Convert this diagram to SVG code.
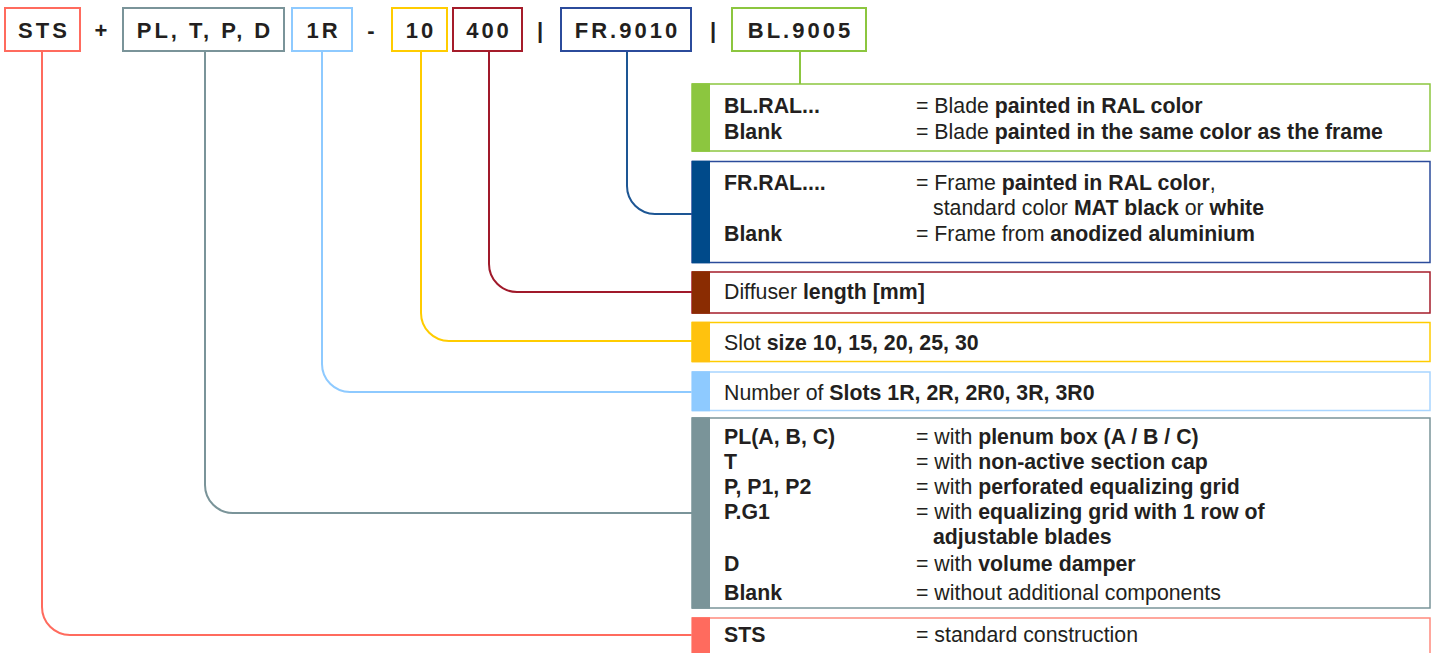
<svg xmlns="http://www.w3.org/2000/svg" width="1435" height="653" viewBox="0 0 1435 653">
<style>
text{font-family:"Liberation Sans",Arial,sans-serif;fill:#231f20;}
.h{font-size:22px;font-weight:700;letter-spacing:3px;text-anchor:middle;}
.s{font-size:22px;font-weight:700;text-anchor:middle;}
.t{font-size:21.3px;}
.b{font-weight:700;}
.box{fill:#fff;stroke-width:2;}
.pan{fill:#fff;stroke-width:1.5;}
.con{fill:none;stroke-width:2;}
</style>
<rect width="1435" height="653" fill="#fff"/>
<g id="connectors">
<path class="con" stroke="#ff6b5e" d="M42,51 V607 A28,28 0 0 0 70,635 H692"/>
<path class="con" stroke="#7a9499" d="M205,51 V485 A28,28 0 0 0 233,513 H692"/>
<path class="con" stroke="#8ecaff" d="M322,51 V364 A28,28 0 0 0 350,392 H692"/>
<path class="con" stroke="#ffcc00" d="M421,51 V313 A28,28 0 0 0 449,341 H692"/>
<path class="con" stroke="#a0192a" d="M489,51 V264 A28,28 0 0 0 517,292 H692"/>
<path class="con" stroke="#1d5694" d="M627,51 V186 A28,28 0 0 0 655,214 H692"/>
<path class="con" stroke="#8cc63f" d="M800,51 V84"/>
</g>
<g id="code">
<g id="h-sts"><rect class="box" x="5" y="8" width="75" height="43" stroke="#ff6b5e"/><text class="h" x="44" y="38">STS</text></g>
<text class="s" x="101" y="38">+</text>
<g id="h-pl"><rect class="box" x="123" y="8" width="161" height="43" stroke="#7a9499"/><text class="h" x="205" y="38">PL, T, P, D</text></g>
<g id="h-1r"><rect class="box" x="292" y="8" width="60" height="43" stroke="#8ecaff"/><text class="h" x="323.5" y="38">1R</text></g>
<text class="s" x="371" y="38">-</text>
<g id="h-10"><rect class="box" x="392" y="8" width="55" height="43" stroke="#ffcc00"/><text class="h" x="421" y="38">10</text></g>
<g id="h-400"><rect class="box" x="453" y="8" width="69" height="43" stroke="#a51c2a"/><text class="h" x="489" y="38">400</text></g>
<text class="s" x="540" y="38">|</text>
<g id="h-fr"><rect class="box" x="561" y="8" width="130" height="43" stroke="#2b4b9b"/><text class="h" x="627.5" y="38">FR.9010</text></g>
<text class="s" x="713" y="38">|</text>
<g id="h-bl"><rect class="box" x="732" y="8" width="134" height="43" stroke="#8cc63f"/><text class="h" x="800.5" y="38">BL.9005</text></g>
</g>
<g id="p-bl">
<rect class="pan" x="692" y="84" width="738" height="67" stroke="#8cc63f"/>
<rect x="692" y="83.25" width="18" height="68.5" fill="#8cc63f"/>
<text class="t b" x="724" y="112.5">BL.RAL...</text>
<text class="t" x="916" y="112.5">= Blade <tspan class="b">painted in RAL color</tspan></text>
<text class="t b" x="724" y="138.5">Blank</text>
<text class="t" x="916" y="138.5">= Blade <tspan class="b">painted in the same color as the frame</tspan></text>
</g>
<g id="p-fr">
<rect class="pan" x="692" y="161.5" width="738" height="101" stroke="#2b4b9b"/>
<rect x="692" y="160.75" width="18" height="102.5" fill="#004a8a"/>
<text class="t b" x="724" y="190">FR.RAL....</text>
<text class="t" x="916" y="190">= Frame <tspan class="b">painted in RAL color</tspan>,</text>
<text class="t" x="933" y="215">standard color <tspan class="b">MAT black</tspan> or <tspan class="b">white</tspan></text>
<text class="t b" x="724" y="241">Blank</text>
<text class="t" x="916" y="241">= Frame from <tspan class="b">anodized aluminium</tspan></text>
</g>
<g id="p-len">
<rect class="pan" x="692" y="272" width="738" height="41" stroke="#a51c2a"/>
<rect x="692" y="271.25" width="18" height="42.5" fill="#8a2c02"/>
<text class="t" x="724" y="299">Diffuser <tspan class="b">length [mm]</tspan></text>
</g>
<g id="p-slot">
<rect class="pan" x="692" y="322.5" width="738" height="39" stroke="#ffcc00"/>
<rect x="692" y="321.75" width="18" height="40.5" fill="#ffc20e"/>
<text class="t" x="724" y="349.5">Slot <tspan class="b">size 10, 15, 20, 25, 30</tspan></text>
</g>
<g id="p-num">
<rect class="pan" x="692" y="372" width="738" height="38.5" stroke="#a8d5ff"/>
<rect x="692" y="371.25" width="18" height="40" fill="#8ecaff"/>
<text class="t" x="724" y="400">Number of <tspan class="b">Slots 1R, 2R, 2R0, 3R, 3R0</tspan></text>
</g>
<g id="p-pl">
<rect class="pan" x="692" y="418" width="738" height="190" stroke="#7a9499"/>
<rect x="692" y="417.25" width="18" height="191.5" fill="#7a9499"/>
<text class="t b" x="724" y="444">PL(A, B, C)</text>
<text class="t" x="916" y="444">= with <tspan class="b">plenum box (A / B / C)</tspan></text>
<text class="t b" x="724" y="468.5">T</text>
<text class="t" x="916" y="468.5">= with <tspan class="b">non-active section cap</tspan></text>
<text class="t b" x="724" y="494">P, P1, P2</text>
<text class="t" x="916" y="494">= with <tspan class="b">perforated equalizing grid</tspan></text>
<text class="t b" x="724" y="519">P.G1</text>
<text class="t" x="916" y="519">= with <tspan class="b">equalizing grid with 1 row of</tspan></text>
<text class="t b" x="933" y="544">adjustable blades</text>
<text class="t b" x="724" y="571">D</text>
<text class="t" x="916" y="571">= with <tspan class="b">volume damper</tspan></text>
<text class="t b" x="724" y="599.5">Blank</text>
<text class="t" x="916" y="599.5">= without additional components</text>
</g>
<g id="p-sts">
<rect class="pan" x="692" y="618" width="738" height="50" stroke="#ff8a7e"/>
<rect x="692" y="617.25" width="18" height="40" fill="#ff6b5e"/>
<text class="t b" x="724" y="641.5">STS</text>
<text class="t" x="916" y="641.5">= standard construction</text>
</g>
</svg>
